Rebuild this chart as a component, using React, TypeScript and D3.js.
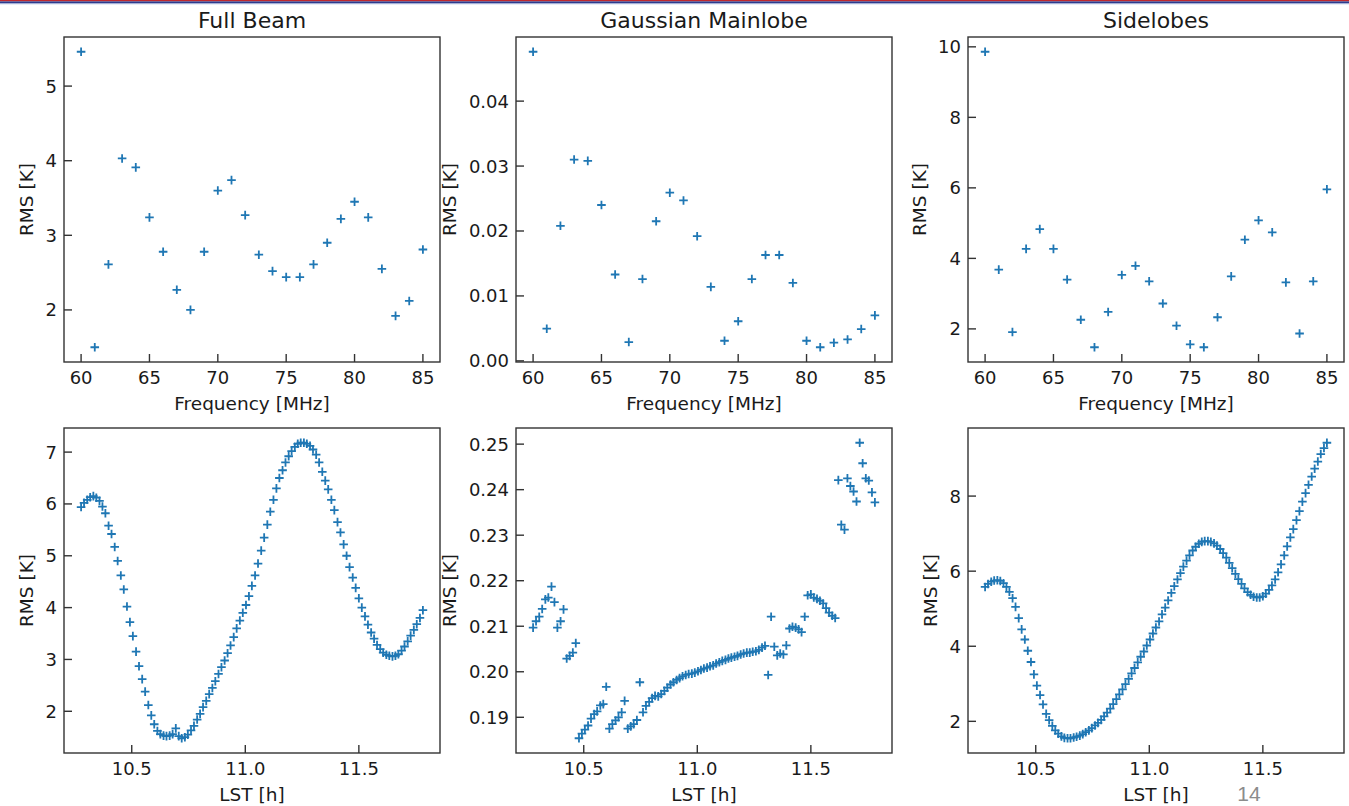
import React from 'react';
import * as d3 from 'd3';

// ---------------- data ----------------
const freq = [60, 61, 62, 63, 64, 65, 66, 67, 68, 69, 70, 71, 72, 73, 74, 75, 76, 77, 78, 79, 80, 81, 82, 83, 84, 85];
const fullBeamFreq = [5.46, 1.50, 2.61, 4.03, 3.91, 3.24, 2.78, 2.27, 2.00, 2.78, 3.60, 3.74, 3.27, 2.74, 2.52, 2.44, 2.44, 2.61, 2.90, 3.22, 3.45, 3.24, 2.55, 1.92, 2.12, 2.81];
const mainlobeFreq = [0.0476, 0.00495, 0.0208, 0.0310, 0.0308, 0.0240, 0.0133, 0.0029, 0.0126, 0.0215, 0.0259, 0.0247, 0.0192, 0.0114, 0.0031, 0.0061, 0.0126, 0.0163, 0.0163, 0.0120, 0.0031, 0.0021, 0.0028, 0.0033, 0.0049, 0.0070];
const sidelobesFreq = [9.86, 3.68, 1.91, 4.27, 4.83, 4.27, 3.40, 2.26, 1.48, 2.48, 3.53, 3.79, 3.35, 2.72, 2.09, 1.56, 1.48, 2.33, 3.49, 4.53, 5.08, 4.74, 3.32, 1.87, 3.35, 5.96];

const lst = [
  10.277, 10.290, 10.304, 10.317, 10.331, 10.344, 10.358, 10.371, 10.384, 10.398,
  10.411, 10.425, 10.438, 10.452, 10.465, 10.479, 10.492, 10.505, 10.519, 10.532,
  10.546, 10.559, 10.573, 10.586, 10.599, 10.613, 10.626, 10.640, 10.653, 10.667,
  10.680, 10.694, 10.707, 10.720, 10.734, 10.747, 10.761, 10.774, 10.788, 10.801,
  10.814, 10.828, 10.841, 10.855, 10.868, 10.882, 10.895, 10.909, 10.922, 10.935,
  10.949, 10.962, 10.976, 10.989, 11.003, 11.016, 11.029, 11.043, 11.056, 11.070,
  11.083, 11.097, 11.110, 11.124, 11.137, 11.150, 11.164, 11.177, 11.191, 11.204,
  11.218, 11.231, 11.244, 11.258, 11.271, 11.285, 11.298, 11.312, 11.325, 11.339,
  11.352, 11.365, 11.379, 11.392, 11.406, 11.419, 11.433, 11.446, 11.459, 11.473,
  11.486, 11.500, 11.513, 11.527, 11.540, 11.554, 11.567, 11.580, 11.594, 11.607,
  11.621, 11.634, 11.648, 11.661, 11.674, 11.688, 11.701, 11.715, 11.728, 11.742,
  11.755, 11.769, 11.782,
];
const fullBeamLst = [
  5.94, 6.02, 6.08, 6.13, 6.15, 6.12, 6.06, 5.95, 5.82, 5.58,
  5.42, 5.17, 4.90, 4.62, 4.35, 4.02, 3.72, 3.45, 3.15, 2.87,
  2.62, 2.38, 2.12, 1.92, 1.75, 1.62, 1.56, 1.53, 1.52, 1.53,
  1.56, 1.67, 1.52, 1.48, 1.50, 1.55, 1.63, 1.72, 1.84, 1.95,
  2.08, 2.20, 2.33, 2.45, 2.58, 2.72, 2.85, 2.98, 3.12, 3.27,
  3.43, 3.60, 3.75, 3.90, 4.05, 4.22, 4.42, 4.62, 4.85, 5.10,
  5.35, 5.60, 5.85, 6.08, 6.30, 6.50, 6.65, 6.80, 6.92, 7.02,
  7.10, 7.16, 7.18, 7.18, 7.16, 7.12, 7.05, 6.95, 6.80, 6.62,
  6.45, 6.28, 6.08, 5.88, 5.65, 5.45, 5.22, 5.00, 4.78, 4.58,
  4.38, 4.18, 4.00, 3.83, 3.67, 3.52, 3.40, 3.28, 3.20, 3.13,
  3.09, 3.07, 3.06, 3.07, 3.10, 3.17, 3.25, 3.35, 3.46, 3.57,
  3.68, 3.80, 3.95,
];
const mainlobeLst = [
  0.2097, 0.2111, 0.2121, 0.2138, 0.2159, 0.2163, 0.2187, 0.2153, 0.2097, 0.2111,
  0.2137, 0.2029, 0.2035, 0.2042, 0.2063, 0.1854, 0.1864, 0.1873, 0.1882, 0.1897,
  0.1907, 0.1913, 0.1926, 0.1929, 0.1967, 0.1875, 0.1885, 0.1893, 0.1900, 0.1911,
  0.1936, 0.1875, 0.1880, 0.1885, 0.1894, 0.1977, 0.1911, 0.1925, 0.1934, 0.1942,
  0.1947, 0.1946, 0.1951, 0.1958, 0.1965, 0.1972, 0.1977, 0.1982, 0.1986, 0.1990,
  0.1993, 0.1995, 0.1996, 0.1998, 0.2001, 0.2004, 0.2007, 0.2009, 0.2012, 0.2014,
  0.2018, 0.2021, 0.2024, 0.2026, 0.2029, 0.2031, 0.2033, 0.2035, 0.2038, 0.2040,
  0.2042, 0.2042, 0.2044, 0.2045, 0.2048, 0.2053, 0.2057, 0.1993, 0.2121, 0.2055,
  0.2036, 0.2040, 0.2038, 0.2058, 0.2095, 0.2099, 0.2097, 0.2093, 0.2087, 0.2121,
  0.2168, 0.2170, 0.2163, 0.2160, 0.2156, 0.2150, 0.2140, 0.2130, 0.2123, 0.2118,
  0.2421, 0.2323, 0.2312, 0.2425, 0.2408, 0.2396, 0.2374, 0.2503, 0.2458, 0.2425,
  0.2420, 0.2394, 0.2372,
];
const sidelobesLst = [
  5.58, 5.66, 5.72, 5.75, 5.76, 5.74, 5.68, 5.58, 5.45, 5.28,
  5.05, 4.75, 4.45, 4.18, 3.88, 3.58, 3.25, 2.95, 2.70, 2.45,
  2.20, 2.03, 1.88, 1.76, 1.67, 1.60, 1.56, 1.55, 1.55, 1.57,
  1.59, 1.62, 1.66, 1.71, 1.76, 1.82, 1.89, 1.96, 2.04, 2.13,
  2.23, 2.34, 2.46, 2.59, 2.72, 2.85, 2.99, 3.13, 3.28, 3.42,
  3.57, 3.72, 3.86, 4.02, 4.18, 4.34, 4.50, 4.66, 4.85, 5.03,
  5.22, 5.42, 5.60, 5.78, 5.95, 6.12, 6.28, 6.42, 6.55, 6.65,
  6.73, 6.78, 6.80, 6.80, 6.78, 6.74, 6.68, 6.59, 6.48, 6.36,
  6.22, 6.08, 5.93, 5.79, 5.66, 5.54, 5.44, 5.37, 5.32, 5.30,
  5.30, 5.33, 5.40, 5.50, 5.62, 5.78, 5.97, 6.18, 6.42, 6.66,
  6.90, 7.12, 7.36, 7.60, 7.85, 8.08, 8.30, 8.52, 8.73, 8.92,
  9.12, 9.28, 9.42,
];

const titles = ['Full Beam', 'Gaussian Mainlobe', 'Sidelobes'];
const freqTicks = [60, 65, 70, 75, 80, 85];
const lstTicks = [10.5, 11.0, 11.5];
const yTicksFreq = [[2, 3, 4, 5], [0, 0.01, 0.02, 0.03, 0.04], [2, 4, 6, 8, 10]];
const yTicksLst = [[2, 3, 4, 5, 6, 7], [0.19, 0.2, 0.21, 0.22, 0.23, 0.24, 0.25], [2, 4, 6, 8]];
const yDecFreq = [0, 2, 0];
const yDecLst = [0, 2, 0];
const xLabelFreq = 'Frequency [MHz]';
const xLabelLst = 'LST [h]';
const yLabel = 'RMS [K]';
const pageNumber = '14';

// ---------------- layout ----------------
const W = 1349;
const H = 806;
const colLeft = [64, 516, 968];
const rowTop = [37, 428];
const PW = 376;
const PH = 325;
const FONT = "'DejaVu Sans', sans-serif";
const C0 = '#1f77b4';
const TXT = '#1a1a1a';
const TICK_FS = 18;

function padded(arr: number[]): [number, number] {
  const [a, b] = d3.extent(arr) as [number, number];
  const p = (b - a) * 0.05;
  return [a - p, b + p];
}

function textW(s: string, fs: number) {
  let w = 0;
  for (const ch of s) w += ch === '.' ? 0.318 : 0.636;
  return w * fs;
}

type PanelProps = {
  left: number;
  top: number;
  xs: number[];
  ys: number[];
  xTicks: number[];
  yTicks: number[];
  xDec: number;
  yDec: number;
  xLabel: string;
  title?: string;
};

function Panel({ left, top, xs, ys, xTicks, yTicks, xDec, yDec, xLabel, title }: PanelProps) {
  const x = d3.scaleLinear().domain(padded(xs)).range([left, left + PW]);
  const y = d3.scaleLinear().domain(padded(ys)).range([top + PH, top]);
  const bottom = top + PH;
  const fx = d3.format(`.${xDec}f`);
  const fy = d3.format(`.${yDec}f`);
  const yLabels = yTicks.map((t) => fy(t));
  const maxW = d3.max(yLabels, (s) => textW(s, TICK_FS)) as number;
  const ylx = left - 7 - maxW - 19;
  const cy = top + PH / 2;
  return (
    <g>
      {title && (
        <text x={left + PW / 2} y={top - 9.5} textAnchor="middle" fontSize={22} fontFamily={FONT} fill={TXT}>
          {title}
        </text>
      )}
      {xs.map((xv, i) => (
        <path
          key={i}
          transform={`translate(${x(xv)},${y(ys[i])})`}
          d="M-4.3,0H4.3M0,-4.3V4.3"
          stroke={C0}
          strokeWidth={1.8}
          fill="none"
        />
      ))}
      {xTicks.map((t) => (
        <g key={`xt${t}`}>
          <line x1={x(t)} x2={x(t)} y1={bottom} y2={bottom - 8} stroke="#333" strokeWidth={1.4} />
          <text x={x(t)} y={bottom + 21.5} textAnchor="middle" fontSize={TICK_FS} fontFamily={FONT} fill={TXT}>
            {fx(t)}
          </text>
        </g>
      ))}
      {yTicks.map((t, i) => (
        <g key={`yt${t}`}>
          <line x1={left} x2={left + 8} y1={y(t)} y2={y(t)} stroke="#333" strokeWidth={1.4} />
          <text x={left - 7} y={y(t)} dy="0.36em" textAnchor="end" fontSize={TICK_FS} fontFamily={FONT} fill={TXT}>
            {yLabels[i]}
          </text>
        </g>
      ))}
      <rect x={left} y={top} width={PW} height={PH} fill="none" stroke="#333" strokeWidth={1.4} />
      <text x={left + PW / 2} y={bottom + 48} textAnchor="middle" fontSize={18.5} fontFamily={FONT} fill={TXT}>
        {xLabel}
      </text>
      <text
        transform={`translate(${ylx},${cy}) rotate(-90)`}
        dy="0.35em"
        textAnchor="middle"
        fontSize={18.5}
        fontFamily={FONT}
        fill={TXT}
      >
        {yLabel}
      </text>
    </g>
  );
}

export default function App() {
  const topSeries = [fullBeamFreq, mainlobeFreq, sidelobesFreq];
  const botSeries = [fullBeamLst, mainlobeLst, sidelobesLst];
  return (
    <svg
      width={W}
      height={H}
      viewBox={`0 0 ${W} ${H}`}
      style={{ position: 'absolute', left: 0, top: 0, background: '#fff' }}
    >
      <rect x={0} y={0} width={W} height={H} fill="#fff" />
      <rect x={0} y={0} width={W} height={1.4} fill="#c0282d" />
      <rect x={0} y={1.4} width={W} height={1.8} fill="#2c3b8e" />
      <rect x={0} y={3.2} width={W} height={1} fill="#9aa6d0" />
      {topSeries.map((ys, i) => (
        <Panel
          key={`t${i}`}
          left={colLeft[i]}
          top={rowTop[0]}
          xs={freq}
          ys={ys}
          xTicks={freqTicks}
          yTicks={yTicksFreq[i]}
          xDec={0}
          yDec={yDecFreq[i]}
          xLabel={xLabelFreq}
          title={titles[i]}
        />
      ))}
      {botSeries.map((ys, i) => (
        <Panel
          key={`b${i}`}
          left={colLeft[i]}
          top={rowTop[1]}
          xs={lst}
          ys={ys}
          xTicks={lstTicks}
          yTicks={yTicksLst[i]}
          xDec={1}
          yDec={yDecLst[i]}
          xLabel={xLabelLst}
        />
      ))}
      <text x={1249} y={801} textAnchor="middle" fontSize={21} fontFamily="'Liberation Sans', sans-serif" fill="#8c8c8c">
        {pageNumber}
      </text>
    </svg>
  );
}
